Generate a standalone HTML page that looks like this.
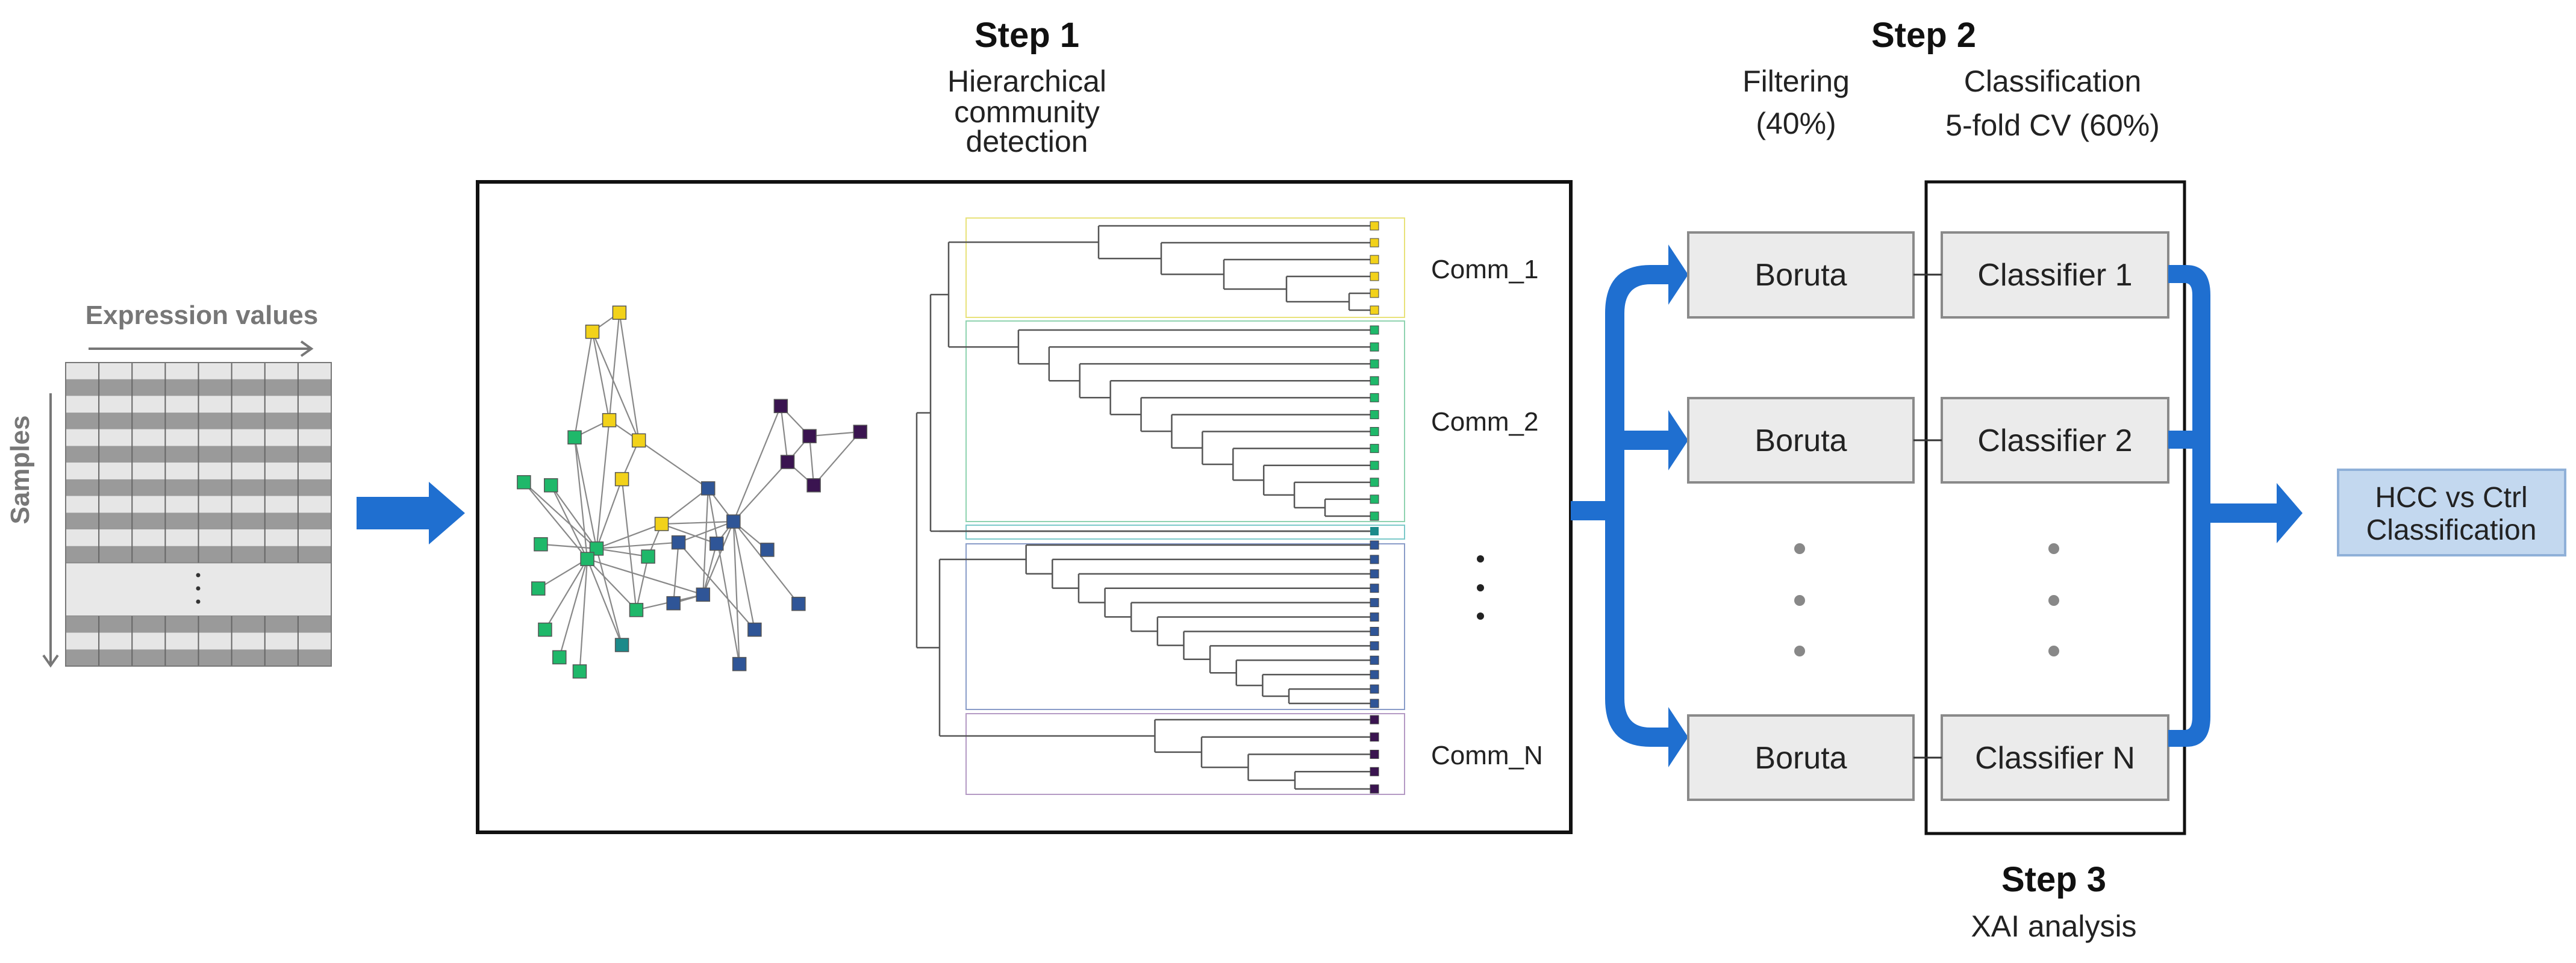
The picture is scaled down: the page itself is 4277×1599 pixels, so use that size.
<!DOCTYPE html>
<html><head><meta charset="utf-8">
<style>
html,body{margin:0;padding:0;background:#fff;}
svg{display:block;}
text{font-family:"Liberation Sans",sans-serif;}
</style></head>
<body>
<svg id="s" xmlns="http://www.w3.org/2000/svg" width="4277" height="1599" viewBox="0 0 4277 1599">
<!-- titles -->
<g text-anchor="middle" fill="#111">
<text x="1705" y="78" font-size="58" font-weight="bold">Step 1</text>
<text x="1705" y="152" font-size="50" fill="#222">Hierarchical</text>
<text x="1705" y="203" font-size="50" fill="#222">community</text>
<text x="1705" y="252" font-size="50" fill="#222">detection</text>
<text x="3194" y="78" font-size="58" font-weight="bold">Step 2</text>
<text x="2982" y="152" font-size="50" fill="#222">Filtering</text>
<text x="2982" y="222" font-size="50" fill="#222">(40%)</text>
<text x="3408" y="152" font-size="50" fill="#222">Classification</text>
<text x="3408" y="225" font-size="50" fill="#222">5-fold CV (60%)</text>
<text x="3410" y="1480" font-size="58" font-weight="bold">Step 3</text>
<text x="3410" y="1555" font-size="50" fill="#222">XAI analysis</text>
</g>

<!-- matrix -->
<g id="mat"></g>
<text x="335" y="538" font-size="44" font-weight="bold" fill="#777" text-anchor="middle">Expression values</text>
<line x1="147" y1="579" x2="515" y2="579" stroke="#777" stroke-width="4"/>
<polyline points="500,567 517,579 500,591" fill="none" stroke="#777" stroke-width="4"/>
<text transform="translate(48,780) rotate(-90)" font-size="44" font-weight="bold" fill="#777" text-anchor="middle">Samples</text>
<line x1="84" y1="653" x2="84" y2="1102" stroke="#777" stroke-width="4"/>
<polyline points="72,1088 84,1105 96,1088" fill="none" stroke="#777" stroke-width="4"/>

<!-- input arrow -->
<polygon points="592,825 712,825 712,800 772,852 712,904 712,879 592,879" fill="#1f6fd0"/>

<!-- main box -->
<rect x="793" y="302" width="1815" height="1080" fill="none" stroke="#111" stroke-width="6"/>
<!-- community boxes -->
<rect x="1604" y="362" width="728" height="165" fill="none" stroke="#e8e27a" stroke-width="2"/>
<rect x="1604" y="533" width="728" height="333" fill="none" stroke="#8fd3b0" stroke-width="2"/>
<rect x="1604" y="872" width="728" height="23" fill="none" stroke="#7cc9c9" stroke-width="2"/>
<rect x="1604" y="903" width="728" height="275" fill="none" stroke="#8a9cc8" stroke-width="2"/>
<rect x="1604" y="1185" width="728" height="134" fill="none" stroke="#b49ac4" stroke-width="2"/>
<g id="dend" fill="none" stroke="#555" stroke-width="2.5"></g>
<g id="net"></g>

<g font-size="44" fill="#222">
<text x="2376" y="462">Comm_1</text>
<text x="2376" y="715">Comm_2</text>
<text x="2376" y="1269">Comm_N</text>
</g>
<circle cx="2458" cy="928" r="6" fill="#222"/><circle cx="2458" cy="976" r="6" fill="#222"/><circle cx="2458" cy="1023" r="6" fill="#222"/>

<!-- left split arrows -->
<g fill="#1f6fd0">
<rect x="2608" y="832" width="80" height="32"/>
<path d="M2665,520 Q2665,440 2740,440 L2770,440 L2770,406 L2803,456 L2770,506 L2770,472 L2740,472 Q2697,472 2697,520 L2697,1160 Q2697,1208 2740,1208 L2770,1208 L2770,1174 L2803,1224 L2770,1274 L2770,1240 L2740,1240 Q2665,1240 2665,1160 Z"/>
<path d="M2697,715 L2770,715 L2770,681 L2803,731 L2770,781 L2770,747 L2697,747 Z"/>
</g>

<!-- step3 box -->
<rect x="3198" y="302" width="429" height="1082" fill="none" stroke="#111" stroke-width="5"/>

<!-- boxes -->
<g fill="#ebebeb" stroke="#8a8a8a" stroke-width="4">
<rect x="2803" y="386" width="374" height="141"/>
<rect x="2803" y="661" width="374" height="140"/>
<rect x="2803" y="1188" width="374" height="140"/>
<rect x="3224" y="386" width="376" height="141"/>
<rect x="3224" y="661" width="376" height="140"/>
<rect x="3224" y="1188" width="376" height="140"/>
</g>
<g stroke="#333" stroke-width="3">
<line x1="3177" y1="456" x2="3224" y2="456"/><line x1="3177" y1="731" x2="3224" y2="731"/><line x1="3177" y1="1258" x2="3224" y2="1258"/>
</g>
<g font-size="52" fill="#222" text-anchor="middle">
<text x="2990" y="474">Boruta</text>
<text x="2990" y="749">Boruta</text>
<text x="2990" y="1276">Boruta</text>
<text x="3412" y="474">Classifier 1</text>
<text x="3412" y="749">Classifier 2</text>
<text x="3412" y="1276">Classifier N</text>
</g>
<g fill="#888">
<circle cx="2988" cy="911" r="9"/><circle cx="2988" cy="997" r="9"/><circle cx="2988" cy="1081" r="9"/>
<circle cx="3410" cy="911" r="9"/><circle cx="3410" cy="997" r="9"/><circle cx="3410" cy="1081" r="9"/>
</g>

<!-- right merge -->
<g fill="#1f6fd0">
<path d="M3600,440 L3630,440 Q3670,440 3670,490 L3670,1190 Q3670,1240 3630,1240 L3600,1240 L3600,1212 L3628,1212 Q3640,1212 3640,1190 L3640,490 Q3640,470 3628,470 L3600,470 Z"/>
<rect x="3600" y="715" width="50" height="30"/>
<path d="M3660,836 L3780,836 L3780,802 L3823,852 L3780,902 L3780,868 L3660,868 Z"/>
</g>
<rect x="3882" y="780" width="377" height="142" fill="#c3d8ef" stroke="#8fb0d8" stroke-width="4"/>
<g font-size="48" fill="#222" text-anchor="middle">
<text x="4070" y="842">HCC vs Ctrl</text>
<text x="4070" y="896">Classification</text>
</g>
</svg>
<script>
var NS="http://www.w3.org/2000/svg";
function el(p,t,a){var e=document.createElementNS(NS,t);for(var k in a)e.setAttribute(k,a[k]);p.appendChild(e);return e;}
// matrix
var m=document.getElementById('mat');
var x0=109,x1=550,cw=(x1-x0)/8,rh=27.7;
function rows(y,n,startDark){for(var i=0;i<n;i++){var dark=(i%2==1)!=startDark;el(m,'rect',{x:x0,y:y+i*rh,width:x1-x0,height:rh,fill:dark?'#9a9a9a':'#e6e6e6'});}return y+n*rh;}
var ye=rows(602,12,false);
el(m,'rect',{x:x0,y:ye,width:x1-x0,height:1023-ye,fill:'#e8e8e8',stroke:'#888','stroke-width':2});
rows(1023,3,true);
for(var c=0;c<=8;c++){el(m,'line',{x1:x0+c*cw,y1:602,x2:x0+c*cw,y2:ye,stroke:'#666','stroke-width':2});el(m,'line',{x1:x0+c*cw,y1:1023,x2:x0+c*cw,y2:1106,stroke:'#666','stroke-width':2});}
el(m,'rect',{x:x0,y:602,width:x1-x0,height:504,fill:'none',stroke:'#777','stroke-width':2});
for(var d=0;d<3;d++)el(m,'circle',{cx:329,cy:955+d*22,r:3.5,fill:'#333'});
// dendrogram
var g=document.getElementById('dend');
function ln(a,b,c,d){el(g,'line',{x1:a,y1:b,x2:c,y2:d});}
var LX=2282;
function group(y0,y1,n,xs,xe,color){var ys=[];for(var i=0;i<n;i++)ys.push(y0+(y1-y0)*i/(n-1));
 for(var i=0;i<n;i++)el(document.getElementById('net'),'rect',{x:LX-7,y:ys[i]-7,width:14,height:14,fill:color,stroke:'#444','stroke-width':1});
 // ladder: node = last leaf, join upward
 var cy=ys[n-1],cx=LX;
 for(var i=n-2;i>=0;i--){var px=xe-(xe-xs)*(n-2-i)/(n-1)*1.0; if(i==n-2)px=xe;
  ln(px,ys[i],LX,ys[i]); ln(px,cy,cx,cy); ln(px,ys[i],px,cy); cy=(ys[i]+cy)/2; cx=px;}
 return [cx,cy];}
function join(a,b,px){ln(px,a[1],a[0],a[1]);ln(px,b[1],b[0],b[1]);ln(px,a[1],px,b[1]);return [px,(a[1]+b[1])/2];}
var Y=group(375,515,6,1720,2240,'#f2d21a');
var G=group(548,857,12,1640,2200,'#1fb86a');
var T=[LX,882];el(document.getElementById('net'),'rect',{x:LX-7,y:875,width:14,height:14,fill:'#1b8a8a'});
ln(1560,882,LX,882);
var B=group(905,1168,12,1660,2140,'#2f5597');
var P=group(1195,1310,5,1840,2150,'#3a1450');
var YG=join(Y,G,1575);
var YGT=join(YG,[LX,882],1545);
var BP=join(B,P,1560);
join(YGT,BP,1522);
// network
var sx=1.403,sy=1.02;
var N={Y1:[733,509],Y2:[701,540],Y3:[721,684],Y4:[756,717],Y5:[736,780],Y6:[783,853],
G1:[680,712],G2:[620,785],G3:[652,790],G4:[640,886],G5:[706,893],G6:[695,910],G7:[767,906],G8:[637,958],G9:[645,1025],G10:[662,1070],G11:[686,1093],G12:[753,993],
T1:[736,1050],B1:[838,795],B2:[868,849],B3:[803,883],B4:[848,885],B5:[908,895],B6:[832,968],B7:[797,982],B8:[945,983],B9:[893,1025],B10:[875,1081],
P1:[924,661],P2:[958,710],P3:[1018,703],P4:[932,752],P5:[963,790]};
var E="Y1-Y2 Y1-Y3 Y1-Y4 Y2-Y3 Y2-Y4 Y3-G1 Y3-Y4 Y4-B1 Y4-Y5 G1-G5 G1-G6 G2-G5 G3-G5 G4-G5 G5-G6 G6-G8 G6-G9 G6-G10 G6-G11 G5-G7 G5-Y6 G5-Y5 G6-T1 G6-G12 G5-B3 Y6-B2 Y6-B1 Y6-B4 Y6-G7 G7-G12 G12-B6 B2-B1 B2-B3 B2-B4 B2-B5 B2-B6 B2-B8 B2-B9 B2-B10 B2-P1 B2-P4 B4-B6 B6-B7 B3-B7 B1-B6 B1-B10 P1-P2 P1-P4 P2-P3 P2-P4 P3-P5 P4-P5 P2-P5 G5-Y3 Y5-G12 B3-B9 G2-G6 G3-G6 G1-Y2 G5-T1 G6-B6".split(' ');
var net=document.getElementById('net');
E.forEach(function(e){var p=e.split('-'),a=N[p[0]],b=N[p[1]];el(net,'line',{x1:a[0]*sx,y1:a[1]*sy,x2:b[0]*sx,y2:b[1]*sy,stroke:'#888','stroke-width':2.2});});
var col={Y:'#f2d21a',G:'#1fb86a',T:'#1b8a8a',B:'#2f5597',P:'#3a1450'};
for(var k in N){var p=N[k];el(net,'rect',{x:p[0]*sx-11,y:p[1]*sy-11,width:22,height:22,fill:col[k[0]],stroke:'#555','stroke-width':1.5});}
</script>
</body></html>
